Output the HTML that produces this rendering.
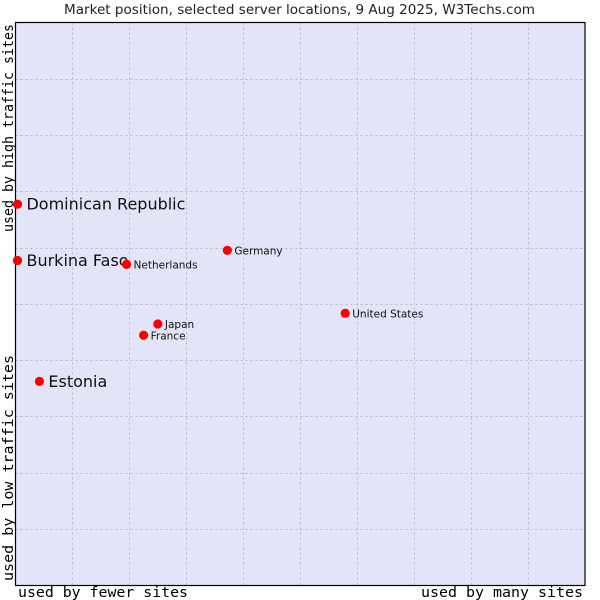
<!DOCTYPE html>
<html><head><meta charset="utf-8"><style>
body{margin:0;background:#fff;width:600px;height:600px;overflow:hidden}
svg{display:block}
</style></head><body>
<svg id="chart" width="600" height="600" xmlns="http://www.w3.org/2000/svg">
<text x="64" y="14" textLength="471" lengthAdjust="spacingAndGlyphs" font-family="'DejaVu Sans',sans-serif" font-size="13" fill="#222">Market position, selected server locations, 9 Aug 2025, W3Techs.com</text>
<rect x="15.5" y="22.5" width="569.5" height="562.5" fill="#e3e4f8" stroke="none"/>
<g id="grid"></g>
<rect x="15.5" y="22.5" width="569.5" height="563" fill="none" stroke="#000" stroke-width="1.2"/>
<text x="18" y="597" textLength="170" lengthAdjust="spacingAndGlyphs" font-family="'DejaVu Sans Mono','Liberation Mono',monospace" font-size="14" fill="#000">used by fewer sites</text>
<text x="421" y="597" textLength="162" lengthAdjust="spacingAndGlyphs" font-family="'DejaVu Sans Mono','Liberation Mono',monospace" font-size="14" fill="#000">used by many sites</text>
<text transform="translate(13,232) rotate(-90)" textLength="208" lengthAdjust="spacingAndGlyphs" font-family="'DejaVu Sans Mono','Liberation Mono',monospace" font-size="14" fill="#000">used by high traffic sites</text>
<text transform="translate(13,581) rotate(-90)" textLength="226" lengthAdjust="spacingAndGlyphs" font-family="'DejaVu Sans Mono','Liberation Mono',monospace" font-size="14" fill="#000">used by low traffic sites</text>
<g id="points"></g>
</svg>
<script>
const countries = ["Dominican Republic","Burkina Faso","Netherlands","Germany","United States","Japan","France","Estonia"];
const xValues = [0.35, 0.35, 19.5, 37.2, 57.9, 25.0, 22.5, 4.2];
const yValues = [67.7, 57.7, 57.0, 59.5, 48.3, 46.4, 44.4, 36.2];
const highlighted = [true, true, false, false, false, false, false, true];

const L=15.5,R=585,T=22.5,B=585;
const xs=v=>L+(R-L)*v/100;
const ys=v=>B-(B-T)*v/100;
const NS="http://www.w3.org/2000/svg";
const grid=document.getElementById('grid');
for(let k=1;k<10;k++){
  const v=document.createElementNS(NS,'line');
  const x=Math.round(xs(k*10))+0.5;
  v.setAttribute('x1',x);v.setAttribute('x2',x);v.setAttribute('y1',T);v.setAttribute('y2',B);
  v.setAttribute('stroke','#bbbbc4');v.setAttribute('stroke-dasharray','2,3');
  
  
  grid.appendChild(v);
  const h=document.createElementNS(NS,'line');
  const y=Math.round(ys(k*10))+0.5;
  h.setAttribute('x1',L);h.setAttribute('x2',R);h.setAttribute('y1',y);h.setAttribute('y2',y);
  h.setAttribute('stroke','#bbbbc4');h.setAttribute('stroke-dasharray','2,3');
  
  
  grid.appendChild(h);
}
const pts=document.getElementById('points');
countries.forEach((c,i)=>{
  const x=xs(xValues[i]),y=ys(yValues[i]);
  const m=document.createElementNS(NS,'circle');
  m.setAttribute('cx',x);m.setAttribute('cy',y);m.setAttribute('r',4.6);
  m.setAttribute('fill','#f00');
  
  
  pts.appendChild(m);
  const t=document.createElementNS(NS,'text');
  const big=highlighted[i];
  t.setAttribute('x',x+(big?9:7));
  t.setAttribute('y',y+(big?5.5:4));
  t.setAttribute('font-family',"'DejaVu Sans',sans-serif");
  t.setAttribute('font-size',big?16:10.5);
  t.setAttribute('fill','#111');
  t.textContent=c;
  
  
  pts.appendChild(t);
});
</script>
</body></html>
